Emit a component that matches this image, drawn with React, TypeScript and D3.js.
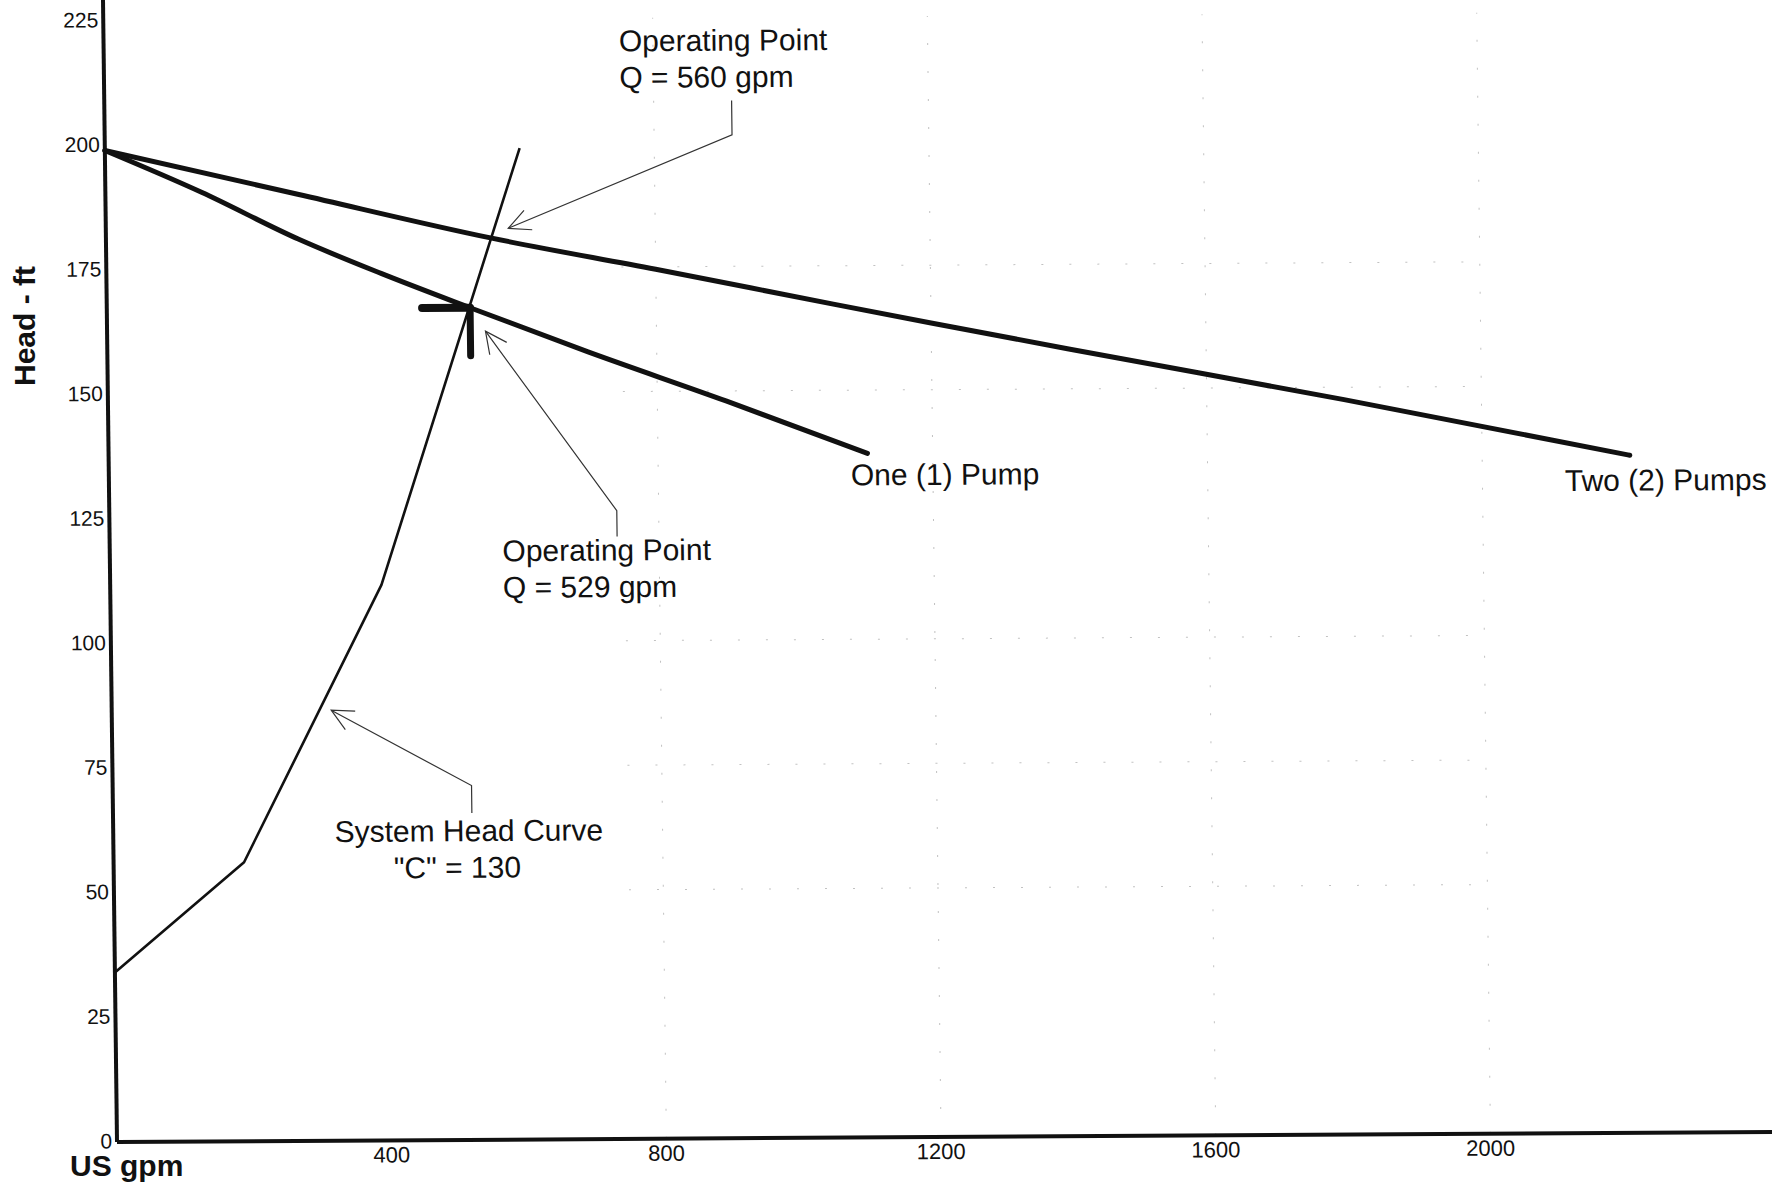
import React, { useEffect } from 'react';
import * as d3 from 'd3';

// ---- data ----
const X_TICKS = [400, 800, 1200, 1600, 2000];
const Y_TICKS = [0, 25, 50, 75, 100, 125, 150, 175, 200, 225];
const X_GRID = [800, 1200, 1600, 2000];
const Y_GRID = [50, 75, 100, 150, 175];

const ONE_PUMP_Q = [0, 140, 280, 400, 529, 700, 900, 1105];
const ONE_PUMP_H = [199, 190.5, 181, 174, 167, 158, 148, 137.3];

const TWO_PUMP_Q = [0, 280, 560, 800, 1058, 1200, 1400, 1800, 2215];
const TWO_PUMP_H = [199, 190, 181, 174.5, 167.3, 163.4, 158, 147.5, 136];

const SYSTEM_Q = [0, 190, 395, 604];
const SYSTEM_H = [34, 56, 111.5, 199];

const OP_ONE = { q: 529, h: 167 };

// annotation layout (data units)
const ANNOTATIONS = [
  { lines: ['Operating Point', 'Q = 560 gpm'], at: [750.4, 218.3], leader: [[913.5, 208.3], [913.5, 201.4], [586, 182.9]] },
  { lines: ['Operating Point', 'Q = 529 gpm'], at: [571.8, 116.1], leader: [[739, 120.9], [739, 126.1], [551, 162.3]] },
];
const SYSTEM_LABEL = { line1: 'System Head Curve', at1: [322.4, 59.95], line2: '"C" = 130', at2: [408, 52.6], leader: [[522.6, 65.6], [522.6, 71.1], [319.6, 86.4]] };
const CURVE_LABELS = [
  { text: 'One (1) Pump', at: [1080.5, 130.9] },
  { text: 'Two (2) Pumps', at: [2120, 128.9] },
];

const W = 1791;
const H = 1187;
const FONT = '"Liberation Sans", Arial, sans-serif';

export default function App() {
  useEffect(() => {
    document.body.style.margin = '0';
    document.body.style.background = '#fff';
  }, []);

  const plotW = 1655;
  const axisH = 1142;
  const x = d3.scaleLinear().domain([0, 2410]).range([0, plotW]);
  const y = d3.scaleLinear().domain([0, 225]).range([0, -1121]);

  const line = d3.line<[number, number]>().x((d) => x(d[0])).y((d) => y(d[1]));
  const smooth = d3
    .line<[number, number]>()
    .x((d) => x(d[0]))
    .y((d) => y(d[1]))
    .curve(d3.curveMonotoneX);
  const one = ONE_PUMP_Q.map((q, i) => [q, ONE_PUMP_H[i]] as [number, number]);
  const two = TWO_PUMP_Q.map((q, i) => [q, TWO_PUMP_H[i]] as [number, number]);
  const sys = SYSTEM_Q.map((q, i) => [q, SYSTEM_H[i]] as [number, number]);

  const arrow = (pts: number[][]) => {
    const n = pts.length;
    const tx = x(pts[n - 1][0]);
    const ty = y(pts[n - 1][1]);
    const px = x(pts[n - 2][0]);
    const py = y(pts[n - 2][1]);
    const ang = Math.atan2(py - ty, px - tx);
    const len = 24;
    const spread = (26 * Math.PI) / 180;
    const a1 = [tx + len * Math.cos(ang - spread), ty + len * Math.sin(ang - spread)];
    const a2 = [tx + len * Math.cos(ang + spread), ty + len * Math.sin(ang + spread)];
    return `M${a1[0]},${a1[1]}L${tx},${ty}L${a2[0]},${a2[1]}`;
  };
  const leaderPath = (pts: number[][]) =>
    pts.map((p, i) => `${i ? 'L' : 'M'}${x(p[0])},${y(p[1])}`).join('');

  const b = -0.00604;
  const c = 0.01226;

  return (
    <svg
      width={W}
      height={H}
      viewBox={`0 0 ${W} ${H}`}
      style={{ position: 'absolute', left: 0, top: 0, background: '#fff' }}
    >
      <rect x={0} y={0} width={W} height={H} fill="#fff" />
      <g transform={`matrix(1, ${b}, ${c}, 1, 117, 1142)`} fontFamily={FONT}>
        {/* faint grid remnants */}
        <g stroke="#9a9a9a" strokeWidth={1} strokeDasharray="2 26" opacity={0.6}>
          {X_GRID.map((g) => (
            <line key={'gx' + g} x1={x(g)} x2={x(g)} y1={y(0)} y2={y(225)} />
          ))}
          {Y_GRID.map((g) => (
            <line key={'gy' + g} x1={x(750)} x2={x(2000)} y1={y(g)} y2={y(g)} />
          ))}
        </g>

        {/* axes */}
        <line x1={0} x2={0} y1={0} y2={-axisH} stroke="#111" strokeWidth={4} />
        <line x1={0} x2={plotW} y1={0} y2={0} stroke="#111" strokeWidth={4} />

        {/* tick labels */}
        {Y_TICKS.map((t) => (
          <text key={'yt' + t} x={-5} y={y(t)} dy="0.3em" textAnchor="end" fontSize={21} fill="#111">
            {t}
          </text>
        ))}
        {X_TICKS.map((t) => (
          <text key={'xt' + t} x={x(t)} y={22} textAnchor="middle" fontSize={22} fill="#111">
            {t}
          </text>
        ))}

        {/* curves */}
        <path d={line(sys) || ''} fill="none" stroke="#111" strokeWidth={2.6} strokeLinejoin="round" />
        <path d={smooth(one) || ''} fill="none" stroke="#111" strokeWidth={5} strokeLinejoin="round" strokeLinecap="round" />
        <path d={smooth(two) || ''} fill="none" stroke="#111" strokeWidth={5} strokeLinejoin="round" strokeLinecap="round" />

        {/* operating point marker */}
        <line x1={x(OP_ONE.q) - 48} x2={x(OP_ONE.q)} y1={y(OP_ONE.h)} y2={y(OP_ONE.h)} stroke="#111" strokeWidth={8} strokeLinecap="round" />
        <line x1={x(OP_ONE.q)} x2={x(OP_ONE.q)} y1={y(OP_ONE.h)} y2={y(OP_ONE.h) + 48} stroke="#111" strokeWidth={7} strokeLinecap="round" />

        {/* annotations */}
        {ANNOTATIONS.map((a, i) => (
          <g key={'an' + i}>
            <text x={x(a.at[0])} y={y(a.at[1])} fontSize={30} fill="#111">
              {a.lines.map((l, j) => (
                <tspan key={j} x={x(a.at[0])} dy={j === 0 ? 0 : 36.6}>
                  {l}
                </tspan>
              ))}
            </text>
            <path d={leaderPath(a.leader)} fill="none" stroke="#333" strokeWidth={1.2} />
            <path d={arrow(a.leader)} fill="none" stroke="#333" strokeWidth={1.2} />
          </g>
        ))}
        <g>
          <text x={x(SYSTEM_LABEL.at1[0])} y={y(SYSTEM_LABEL.at1[1])} fontSize={30} fill="#111">
            {SYSTEM_LABEL.line1}
          </text>
          <text x={x(SYSTEM_LABEL.at2[0])} y={y(SYSTEM_LABEL.at2[1])} fontSize={30} fill="#111">
            {SYSTEM_LABEL.line2}
          </text>
          <path d={leaderPath(SYSTEM_LABEL.leader)} fill="none" stroke="#333" strokeWidth={1.2} />
          <path d={arrow(SYSTEM_LABEL.leader)} fill="none" stroke="#333" strokeWidth={1.2} />
        </g>
        {CURVE_LABELS.map((l) => (
          <text key={l.text} x={x(l.at[0])} y={y(l.at[1])} fontSize={30} fill="#111">
            {l.text}
          </text>
        ))}
      </g>

      {/* axis titles */}
      <text
        transform="translate(35,326) rotate(-90)"
        textAnchor="middle"
        fontFamily={FONT}
        fontWeight="bold"
        fontSize={30}
        fill="#111"
      >
        Head - ft
      </text>
      <text x={70} y={1176} fontFamily={FONT} fontWeight="bold" fontSize={30} fill="#111">
        US gpm
      </text>
    </svg>
  );
}
